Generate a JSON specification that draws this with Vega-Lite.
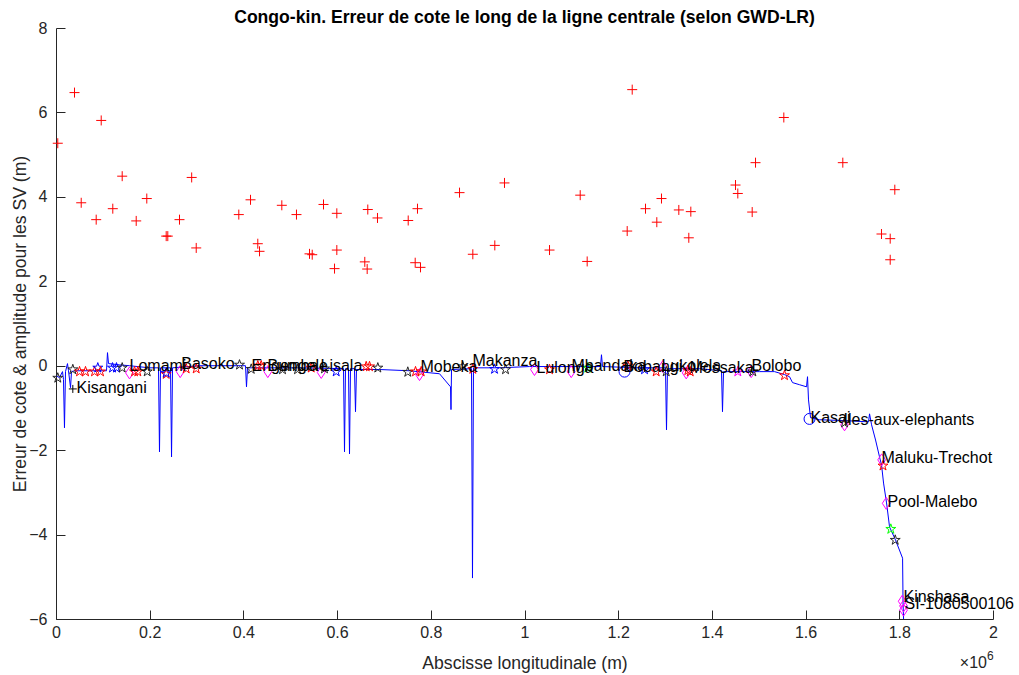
{
  "$schema": "https://vega.github.io/schema/vega-lite/v6.json",
  "width": 937,
  "height": 591,
  "autosize": {"type": "none"},
  "padding": {"left": 56, "top": 28, "right": 26, "bottom": 56},
  "background": "white",
  "config": {
    "view": {"stroke": null},
    "font": "Liberation Sans",
    "axis": {
      "domainColor": "#262626", "tickColor": "#262626", "labelColor": "#262626", "titleColor": "#262626",
      "labelFont": "Liberation Sans", "titleFont": "Liberation Sans",
      "labelFontSize": 16, "titleFontSize": 17.6, "titleFontWeight": "normal",
      "grid": false, "tickSize": -9, "domainWidth": 1, "tickWidth": 1
    }
  },
  "title": {
    "text": "Congo-kin. Erreur de cote le long de la ligne centrale (selon GWD-LR)",
    "fontSize": 17.6, "fontWeight": "bold", "font": "Liberation Sans", "color": "black",
    "frame": "group", "anchor": "middle", "baseline": "alphabetic", "offset": -21
  },
  "datasets": {
    "profile": [
      {"x": 0, "y": -0.24}, {"x": 7500, "y": -0.28}, {"x": 13900, "y": -0.14}, {"x": 16000, "y": -0.33},
      {"x": 18100, "y": -1.47}, {"x": 20300, "y": -0.14}, {"x": 24500, "y": 0.05}, {"x": 26700, "y": -0.12},
      {"x": 31000, "y": -0.52}, {"x": 33100, "y": -0.14}, {"x": 39500, "y": -0.12}, {"x": 107800, "y": -0.12},
      {"x": 109900, "y": 0.31}, {"x": 112100, "y": 0.05}, {"x": 135500, "y": 0.02}, {"x": 156900, "y": 0.0},
      {"x": 199600, "y": -0.05}, {"x": 218800, "y": -0.05}, {"x": 220900, "y": -2.04}, {"x": 223100, "y": -0.05},
      {"x": 244400, "y": -0.05}, {"x": 246600, "y": -2.16}, {"x": 248700, "y": -0.05}, {"x": 306300, "y": 0.0},
      {"x": 404500, "y": 0.0}, {"x": 406600, "y": -0.5}, {"x": 408800, "y": -0.05}, {"x": 519800, "y": -0.05},
      {"x": 613700, "y": -0.07}, {"x": 615800, "y": -2.04}, {"x": 617900, "y": -0.07}, {"x": 624300, "y": -0.07},
      {"x": 626500, "y": -2.09}, {"x": 628600, "y": -0.07}, {"x": 637100, "y": -0.07}, {"x": 639300, "y": -1.09},
      {"x": 641400, "y": -0.09}, {"x": 690500, "y": -0.09}, {"x": 754600, "y": -0.12}, {"x": 818600, "y": -0.19},
      {"x": 842100, "y": -0.5}, {"x": 843100, "y": -1.04}, {"x": 844200, "y": -0.09}, {"x": 886900, "y": -0.07},
      {"x": 889000, "y": -5.03}, {"x": 891100, "y": -0.05}, {"x": 946600, "y": -0.05}, {"x": 1010700, "y": -0.02},
      {"x": 1162200, "y": -0.02}, {"x": 1164300, "y": 0.26}, {"x": 1166500, "y": -0.02}, {"x": 1245400, "y": -0.05},
      {"x": 1300900, "y": -0.05}, {"x": 1303100, "y": -1.52}, {"x": 1305200, "y": -0.07}, {"x": 1373500, "y": -0.07},
      {"x": 1420500, "y": -0.12}, {"x": 1422600, "y": -1.09}, {"x": 1424800, "y": -0.14}, {"x": 1501600, "y": -0.14},
      {"x": 1533600, "y": -0.14}, {"x": 1555000, "y": -0.21}, {"x": 1565700, "y": -0.26}, {"x": 1572100, "y": -0.4},
      {"x": 1587000, "y": -0.45}, {"x": 1602000, "y": -0.5}, {"x": 1604100, "y": -0.26}, {"x": 1606200, "y": -0.81},
      {"x": 1610500, "y": -1.23}, {"x": 1629700, "y": -1.28}, {"x": 1683100, "y": -1.3}, {"x": 1734300, "y": -1.33},
      {"x": 1736500, "y": -1.14}, {"x": 1740800, "y": -1.4}, {"x": 1749300, "y": -1.76}, {"x": 1757800, "y": -2.16},
      {"x": 1762100, "y": -2.35}, {"x": 1766400, "y": -2.78}, {"x": 1772800, "y": -3.25}, {"x": 1779200, "y": -3.82},
      {"x": 1792000, "y": -4.13}, {"x": 1807000, "y": -4.56}, {"x": 1808000, "y": -5.62}, {"x": 1809100, "y": -6.0}
    ],
    "sv": [
      {"x": 3800, "y": 5.27}, {"x": 39500, "y": 6.47}, {"x": 96500, "y": 5.81}, {"x": 53800, "y": 3.86},
      {"x": 85800, "y": 3.46}, {"x": 121200, "y": 3.72}, {"x": 141300, "y": 4.49}, {"x": 171200, "y": 3.43},
      {"x": 193800, "y": 3.96}, {"x": 235200, "y": 3.07}, {"x": 238600, "y": 3.07}, {"x": 289600, "y": 4.46},
      {"x": 263600, "y": 3.46}, {"x": 299300, "y": 2.79}, {"x": 390200, "y": 3.58}, {"x": 415200, "y": 3.93},
      {"x": 430700, "y": 2.89}, {"x": 434400, "y": 2.71}, {"x": 482000, "y": 3.8}, {"x": 513300, "y": 3.58},
      {"x": 541100, "y": 2.65}, {"x": 546900, "y": 2.63}, {"x": 571000, "y": 3.82}, {"x": 599400, "y": 3.61},
      {"x": 599400, "y": 2.74}, {"x": 594500, "y": 2.3}, {"x": 665500, "y": 3.7}, {"x": 686200, "y": 3.5},
      {"x": 659100, "y": 2.46}, {"x": 664200, "y": 2.29}, {"x": 751800, "y": 3.44}, {"x": 771600, "y": 3.72},
      {"x": 766700, "y": 2.44}, {"x": 778000, "y": 2.33}, {"x": 861300, "y": 4.1}, {"x": 889700, "y": 2.64},
      {"x": 936600, "y": 2.85}, {"x": 957300, "y": 4.33}, {"x": 1053400, "y": 2.74}, {"x": 1118900, "y": 4.04},
      {"x": 1133800, "y": 2.47}, {"x": 1219200, "y": 3.19}, {"x": 1229900, "y": 6.54}, {"x": 1258300, "y": 3.72},
      {"x": 1292400, "y": 3.96}, {"x": 1282400, "y": 3.4}, {"x": 1329400, "y": 3.69}, {"x": 1355000, "y": 3.65},
      {"x": 1350700, "y": 3.03}, {"x": 1450400, "y": 4.28}, {"x": 1455300, "y": 4.08}, {"x": 1493100, "y": 4.81},
      {"x": 1486000, "y": 3.64}, {"x": 1553500, "y": 5.88}, {"x": 1679400, "y": 4.81}, {"x": 1790400, "y": 4.17},
      {"x": 1762000, "y": 3.12}, {"x": 1780600, "y": 3.01}, {"x": 1780600, "y": 2.51}
    ],
    "markers": [
      {"x": 3800, "y": -0.29, "t": "kstar"}, {"x": 35900, "y": -0.09, "t": "kstar"}, {"x": 35900, "y": -0.55, "t": "kplus"},
      {"x": 50200, "y": -0.14, "t": "rstar"}, {"x": 63000, "y": -0.14, "t": "rstar"}, {"x": 82200, "y": -0.14, "t": "rstar"},
      {"x": 89200, "y": -0.05, "t": "bstar"}, {"x": 95000, "y": -0.14, "t": "rstar"}, {"x": 120600, "y": -0.05, "t": "bstar"},
      {"x": 129100, "y": -0.05, "t": "bstar"}, {"x": 141300, "y": -0.05, "t": "kstar"}, {"x": 156900, "y": -0.17, "t": "mdia"},
      {"x": 167600, "y": -0.14, "t": "rstar"}, {"x": 174600, "y": -0.14, "t": "rstar"}, {"x": 194700, "y": -0.14, "t": "kstar"},
      {"x": 235200, "y": -0.2, "t": "rstar"}, {"x": 235200, "y": -0.17, "t": "bstar"}, {"x": 265100, "y": -0.14, "t": "mdia"},
      {"x": 277900, "y": -0.07, "t": "rstar"}, {"x": 299300, "y": -0.07, "t": "rstar"}, {"x": 391700, "y": 0.02, "t": "kstar"},
      {"x": 416700, "y": -0.08, "t": "kstar"}, {"x": 430700, "y": 0.0, "t": "rstar"}, {"x": 438000, "y": 0.0, "t": "rstar"},
      {"x": 452100, "y": -0.14, "t": "mdia"}, {"x": 483500, "y": -0.09, "t": "kstar"}, {"x": 515500, "y": -0.09, "t": "kstar"},
      {"x": 544700, "y": -0.05, "t": "rstar"}, {"x": 566100, "y": -0.16, "t": "mdia"}, {"x": 573100, "y": -0.07, "t": "kstar"},
      {"x": 598100, "y": -0.14, "t": "bstar"}, {"x": 662100, "y": -0.02, "t": "rstar"}, {"x": 669200, "y": -0.02, "t": "rstar"},
      {"x": 686900, "y": -0.05, "t": "kstar"}, {"x": 750900, "y": -0.15, "t": "kstar"}, {"x": 767400, "y": -0.14, "t": "rstar"},
      {"x": 775900, "y": -0.21, "t": "mdia"}, {"x": 779500, "y": -0.14, "t": "rstar"}, {"x": 868300, "y": -0.02, "t": "kstar"},
      {"x": 889700, "y": -0.08, "t": "rstar"}, {"x": 936000, "y": -0.08, "t": "bstar"}, {"x": 959500, "y": -0.09, "t": "kstar"},
      {"x": 1021300, "y": -0.09, "t": "mdia"}, {"x": 1053400, "y": -0.09, "t": "rstar"}, {"x": 1099700, "y": -0.14, "t": "mdia"},
      {"x": 1135100, "y": -0.05, "t": "gstar"}, {"x": 1213500, "y": -0.14, "t": "bcirc"}, {"x": 1220500, "y": 0.0, "t": "rstar"},
      {"x": 1256200, "y": -0.09, "t": "bstar"}, {"x": 1281100, "y": -0.14, "t": "rstar"}, {"x": 1295200, "y": -0.02, "t": "mdia"},
      {"x": 1302500, "y": -0.14, "t": "kstar"}, {"x": 1345200, "y": -0.17, "t": "mdia"}, {"x": 1348600, "y": -0.11, "t": "rstar"},
      {"x": 1353700, "y": -0.14, "t": "rstar"}, {"x": 1455300, "y": -0.14, "t": "mstar"}, {"x": 1483900, "y": -0.14, "t": "mdia"},
      {"x": 1487300, "y": -0.14, "t": "kstar"}, {"x": 1555000, "y": -0.23, "t": "rstar"}, {"x": 1608400, "y": -1.26, "t": "bcirc"},
      {"x": 1683100, "y": -1.4, "t": "mdia"}, {"x": 1683100, "y": -1.35, "t": "kstar"}, {"x": 1762400, "y": -2.23, "t": "mdia"},
      {"x": 1765200, "y": -2.37, "t": "rstar"}, {"x": 1772100, "y": -3.26, "t": "mdia"}, {"x": 1781900, "y": -3.87, "t": "gstar"},
      {"x": 1791300, "y": -4.13, "t": "kstar"}, {"x": 1806200, "y": -5.58, "t": "mdia"}, {"x": 1809000, "y": -5.69, "t": "mdia"},
      {"x": 1809000, "y": -5.79, "t": "mdia"}
    ],
    "labels": [
      {"x": 43800, "y": -0.52, "name": "Kisangani"}, {"x": 156900, "y": 0.0, "name": "Lomami"},
      {"x": 267300, "y": 0.05, "name": "Basoko"}, {"x": 417300, "y": 0.0, "name": "Engengele"},
      {"x": 451400, "y": 0.0, "name": "Bumba"}, {"x": 564600, "y": 0.0, "name": "Lisala"},
      {"x": 778000, "y": -0.02, "name": "Mobeka"}, {"x": 889000, "y": 0.12, "name": "Makanza"},
      {"x": 1025600, "y": -0.05, "name": "Lulonga"}, {"x": 1100300, "y": 0.0, "name": "Mbandaka"},
      {"x": 1211400, "y": -0.02, "name": "Bobangi"}, {"x": 1292400, "y": 0.0, "name": "Lukolela"},
      {"x": 1352200, "y": -0.05, "name": "Mossaka"}, {"x": 1484500, "y": 0.0, "name": "Bolobo"},
      {"x": 1610500, "y": -1.23, "name": "Kasai"}, {"x": 1680900, "y": -1.28, "name": "Iles-aux-elephants"},
      {"x": 1762100, "y": -2.18, "name": "Maluku-Trechot"}, {"x": 1774900, "y": -3.23, "name": "Pool-Malebo"},
      {"x": 1809100, "y": -5.48, "name": "Kinshasa"}, {"x": 1811200, "y": -5.65, "name": "SI-1080500106"}
    ]
  },
  "layer": [
    {
      "data": {"name": "profile"},
      "mark": {"type": "line", "color": "#0000ff", "strokeWidth": 1, "clip": true},
      "encoding": {
        "x": {"field": "x", "type": "quantitative", "scale": {"domain": [0, 2000000], "nice": false},
          "axis": {"values": [0, 200000, 400000, 600000, 800000, 1000000, 1200000, 1400000, 1600000, 1800000, 2000000],
            "labelExpr": "format(datum.value / 1000000, '~g')", "labelPadding": 14, "labelFlush": false,
            "title": "Abscisse longitudinale (m)", "titleBaseline": "middle", "titleY": 44}},
        "y": {"field": "y", "type": "quantitative", "scale": {"domain": [-6, 8], "nice": false},
          "axis": {"values": [-6, -4, -2, 0, 2, 4, 6, 8], "labelPadding": 18, "labelFlush": false,
            "title": "Erreur de cote & amplitude pour les SV (m)", "titleBaseline": "middle", "titleX": -36}}
      }
    },
    {
      "data": {"name": "sv"},
      "mark": {"type": "point", "shape": "M-1,0L1,0M0,-1L0,1", "filled": false, "color": "#ff0000", "size": 100, "strokeWidth": 1, "opacity": 1},
      "encoding": {
        "x": {"field": "x", "type": "quantitative"},
        "y": {"field": "y", "type": "quantitative"}
      }
    },
    {
      "data": {"name": "markers"},
      "mark": {"type": "point", "filled": false, "strokeWidth": 1, "opacity": 1},
      "encoding": {
        "x": {"field": "x", "type": "quantitative"},
        "y": {"field": "y", "type": "quantitative"},
        "shape": {"field": "t", "type": "nominal", "legend": null,
          "scale": {"domain": ["kstar", "rstar", "bstar", "gstar", "mstar", "mdia", "bcirc", "kplus"],
            "range": [
              "M0,-1L0.225,-0.309L0.951,-0.309L0.363,0.118L0.588,0.809L0,0.382L-0.588,0.809L-0.363,0.118L-0.951,-0.309L-0.225,-0.309Z",
              "M0,-1L0.225,-0.309L0.951,-0.309L0.363,0.118L0.588,0.809L0,0.382L-0.588,0.809L-0.363,0.118L-0.951,-0.309L-0.225,-0.309Z",
              "M0,-1L0.225,-0.309L0.951,-0.309L0.363,0.118L0.588,0.809L0,0.382L-0.588,0.809L-0.363,0.118L-0.951,-0.309L-0.225,-0.309Z",
              "M0,-1L0.225,-0.309L0.951,-0.309L0.363,0.118L0.588,0.809L0,0.382L-0.588,0.809L-0.363,0.118L-0.951,-0.309L-0.225,-0.309Z",
              "M0,-1L0.225,-0.309L0.951,-0.309L0.363,0.118L0.588,0.809L0,0.382L-0.588,0.809L-0.363,0.118L-0.951,-0.309L-0.225,-0.309Z",
              "M0,-1L0.65,0L0,1L-0.65,0Z", "circle", "M-1,0L1,0M0,-1L0,1"]}},
        "size": {"field": "t", "type": "nominal", "legend": null,
          "scale": {"type": "ordinal", "domain": ["kstar", "rstar", "bstar", "gstar", "mstar", "mdia", "bcirc", "kplus"],
            "range": [110, 110, 110, 110, 110, 144, 121, 64]}},
        "color": {"field": "t", "type": "nominal", "legend": null,
          "scale": {"domain": ["kstar", "rstar", "bstar", "gstar", "mstar", "mdia", "bcirc", "kplus"],
            "range": ["#262626", "#ff0000", "#0000ff", "#00ff00", "#ff00ff", "#ff00ff", "#0000ff", "#000000"]}}
      }
    },
    {
      "data": {"name": "labels"},
      "mark": {"type": "text", "align": "left", "baseline": "middle", "fontSize": 16, "font": "Liberation Sans", "color": "black"},
      "encoding": {
        "x": {"field": "x", "type": "quantitative"},
        "y": {"field": "y", "type": "quantitative"},
        "text": {"field": "name"}
      }
    },
    {
      "data": {"values": [{"x": 2000000, "y": -6, "txt": "×10"}]},
      "mark": {"type": "text", "align": "right", "baseline": "middle", "fontSize": 16, "font": "Liberation Sans", "color": "#262626", "dx": -6, "dy": 44},
      "encoding": {
        "x": {"field": "x", "type": "quantitative"},
        "y": {"field": "y", "type": "quantitative"},
        "text": {"field": "txt"}
      }
    },
    {
      "data": {"values": [{"x": 2000000, "y": -6, "txt": "6"}]},
      "mark": {"type": "text", "align": "left", "baseline": "middle", "fontSize": 12, "font": "Liberation Sans", "color": "#262626", "dx": -6, "dy": 37},
      "encoding": {
        "x": {"field": "x", "type": "quantitative"},
        "y": {"field": "y", "type": "quantitative"},
        "text": {"field": "txt"}
      }
    }
  ]
}
